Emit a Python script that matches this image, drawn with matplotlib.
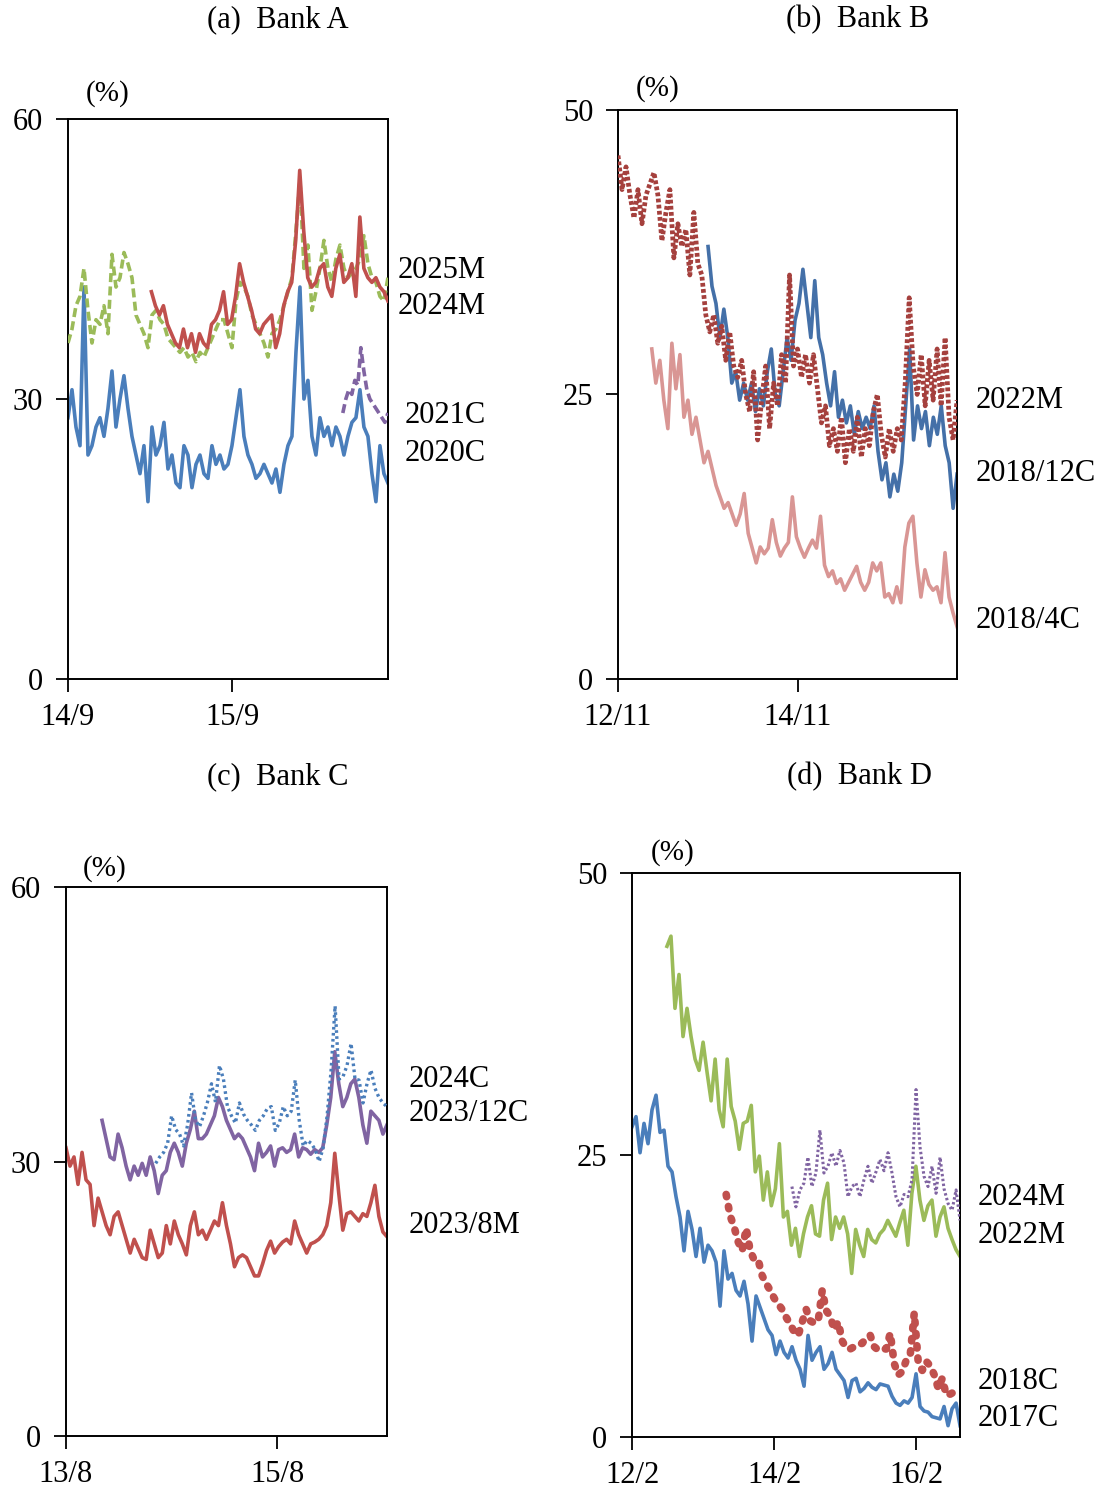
import numpy as np
import matplotlib
matplotlib.use("Agg")
import matplotlib.pyplot as plt

plt.rcParams['font.family'] = ['Liberation Serif', 'DejaVu Serif']

# colours
blue = '#4a7ebb'
red = '#c0504d'
dred = '#a5403d'
pink = '#d99694'
green = '#9bbb59'
purple = '#8064a2'

# ---- panel (a) Bank A : x in months from 14/9 ----
a_xmax = 23.4
a_blue_span = (0, 23.4)
a_blue = [28, 31, 27, 25, 42, 24, 25, 27, 28, 26, 29, 33, 27, 30, 32.5, 29, 26, 24, 22, 25,
          19, 27, 24, 25, 27.5, 22.5, 24, 21, 20.5, 25, 24, 20.5, 23, 24, 22, 21.5, 25, 23, 24, 22.5,
          23, 25, 28, 31, 26, 24, 23, 21.5, 22, 23, 22, 21, 22.5, 20, 23, 25, 26, 35, 42, 30,
          32, 26, 24, 28, 26, 27, 25, 27, 26, 24, 26, 27.5, 28, 31, 27, 26, 22, 19, 25, 22, 21]
a_green_span = (0, 23.4)
a_green = [36, 37.5, 40, 41, 44, 39.5, 36, 38.5, 38, 40, 37, 45.5, 42, 43, 45.7, 44.5, 43, 39, 38, 37,
           35.5, 39, 39.5, 38.5, 38, 36.5, 36, 35.5, 35, 35.5, 34.5, 35, 34, 35, 34.5, 35.5, 36.5, 37.5, 38.5, 38.5,
           37, 35.5, 40.5, 42.5, 42, 41, 39, 38, 37, 36, 34.5, 37, 37.5, 38.5, 40, 41.5, 43, 48, 53.5, 44,
           46.5, 39.5, 41.5, 44, 47, 44, 42.5, 45, 46.5, 44, 43, 43.5, 44, 45, 47.5, 44.5, 43, 42.5, 41, 40.5, 43]
a_red_span = (6.1, 23.4)
a_red = [41.5, 40, 39, 40, 38, 37, 36, 35.5, 37.5, 35.5, 37, 35, 37, 36, 35.5, 38, 38.5, 39.5, 41.5, 38,
         38.5, 41, 44.5, 42.5, 41, 39.5, 37.5, 37, 38, 38.5, 39, 35.5, 37, 40, 41.5, 42.5, 47, 54.5, 48, 43,
         42, 42.5, 44, 44.5, 42, 41, 44, 45.5, 42.5, 43, 44.5, 41, 49.5, 44, 43, 42.5, 43, 42, 41.5, 40.5]
a_purple_span = (20.1, 23.4)
a_purple = [28.5, 30, 31, 30.5, 32, 31.5, 35.5, 33, 31, 30, 29.5, 29, 28.5, 28, 27.5, 28.5]

# ---- panel (b) Bank B : x in months from 12/11 ----
b_xmax = 45.2
b_red_span = (0, 45.2)
b_red = [46, 43, 45, 42.5, 40.5, 43, 40, 42.5, 43.5, 44.5, 42.5, 38.5, 41, 43, 37, 40, 38, 39.5, 35.5, 41,
         36.5, 35.5, 32, 30.5, 32, 29.5, 31, 28, 30.5, 27.5, 26.5, 28, 25, 23.5, 27, 21, 24.5, 27.5, 22, 26,
         24, 28.5, 26, 35.5, 27.5, 29, 26.5, 28.5, 26, 28.5, 25.5, 22.5, 24, 20.5, 22, 20, 23, 19, 22, 20,
         23, 19.5, 22, 20.5, 23.5, 25, 21.5, 19.5, 22, 20, 22, 21, 26, 33.5, 27.5, 25, 28.5, 24, 28, 24.5,
         29, 24, 30, 23, 21, 24.5]
b_blue_span = (12.0, 45.2)
b_blue = [38, 34.5, 33, 30, 32.5, 30, 26, 27, 24.5, 26, 24.5, 26, 23.5, 25.5, 24, 27, 29, 25, 24, 27,
          30, 28, 31.5, 33, 36, 33, 30, 35, 30, 28.5, 26, 24, 27, 23, 24.5, 22.5, 24, 21.5, 23.5, 22,
          23, 22, 24, 20, 17.5, 19, 16, 18, 16.5, 19, 24, 29, 21, 24, 22, 23.5, 20.5, 23, 21.5, 24,
          20.5, 19, 15, 18]
b_pink_span = (4.5, 45.2)
b_pink = [29, 26, 28, 24.5, 22, 29.5, 25.5, 28.5, 23, 24.5, 21.5, 23, 21, 19, 20, 18.5, 17, 16, 15, 15.5,
          14.5, 13.5, 14.5, 16.3, 12.8, 11.5, 10.2, 11.6, 11, 11.5, 14, 12, 10.8, 11.5, 12, 16, 12.5, 11.5, 10.7, 11.5,
          12.2, 11.5, 14.3, 10, 9, 9.5, 8.4, 8.8, 7.8, 8.5, 9.2, 9.9, 8.5, 7.8, 8.5, 10.2, 9.5, 10.2, 7.2, 7.5,
          6.7, 8.1, 6.7, 11.6, 13.7, 14.3, 10.2, 7.2, 9.6, 8.3, 7.8, 8.1, 6.7, 11.1, 7.2, 5.8, 4.6]

# ---- panel (c) Bank C : x in months from 13/8 ----
c_xmax = 36.5
c_red_span = (0, 36.5)
c_red = [31.5, 29.5, 30.5, 27.5, 31, 28, 27.5, 23, 26, 24.5, 23, 22, 24, 24.5, 23, 21.5, 20, 21.5, 20.5, 19.5,
         19.3, 22.5, 21, 19.5, 20, 23, 21, 23.5, 22, 21, 19.8, 23, 24.5, 22, 22.5, 21.5, 22.5, 23.5, 23, 25.5,
         23, 21, 18.5, 19.5, 19.8, 19.5, 18.5, 17.5, 17.5, 18.8, 20.3, 21.3, 20, 20.7, 21.2, 21.5, 21, 23.5, 22, 21,
         20, 21, 21.2, 21.5, 22, 23, 25.5, 30.9, 26.5, 22.5, 24.3, 24.5, 24, 23.5, 24.3, 24, 25.5, 27.4, 24, 22.3, 21.8]
c_purple_span = (4.1, 36.5)
c_purple = [34.5, 32.5, 30.5, 30.2, 33, 31.5, 29.5, 28, 29.5, 28.5, 29.8, 28.5, 30.5, 29, 26.5, 28.5, 29, 31, 32, 31,
            29.5, 32, 33.5, 35.5, 32.5, 32.5, 33, 34, 35, 37, 36, 34.5, 33.5, 32.5, 33, 32.5, 31.5, 30.5, 29, 32,
            30.5, 31, 31.7, 29.5, 31.3, 31.5, 31, 31.3, 33, 30.5, 31.5, 31.3, 30.8, 31.3, 31, 31.5, 34, 37, 42, 38.5,
            36, 37, 38.5, 39, 37, 34, 32, 35.5, 35, 34.5, 33, 34]
c_blue_span = (10.2, 36.5)
c_blue = [29.8, 30.5, 31, 32, 35, 33.5, 33, 31.7, 34, 37.5, 34.5, 33.8, 35, 36.5, 38.5, 36.5, 40.5, 39, 36, 35,
          34.2, 36.4, 35.2, 34.5, 34, 33.4, 34.5, 35, 35.8, 36, 33.4, 34.2, 36, 35, 35.5, 38.9, 34.5, 31.7, 32.3, 32,
          31.3, 30, 31.5, 35, 40, 47, 39, 39.3, 40.5, 42.9, 39, 38.9, 36.4, 38.5, 40, 38, 37, 36.4, 36]

# ---- panel (d) Bank D : x in months from 12/2 ----
d_xmax = 55.4
d_blue_span = (0, 55.4)
d_blue = [27.5, 28.4, 25.2, 27.8, 26, 29, 30.3, 27, 27.2, 24, 23.5, 21.3, 19.5, 16.5, 20, 18.4, 16, 18.5, 15.5, 17,
          16.5, 15.5, 11.6, 16.5, 14, 14.5, 13, 12.5, 13.8, 11.8, 8.5, 12.5, 11.5, 10.5, 9.5, 9, 7.3, 8.5, 7.5, 7,
          8, 6.8, 6, 4.5, 9, 6.8, 7.5, 8, 6, 6.5, 7.5, 6, 5.5, 5, 3.5, 5, 5.2, 4, 4.3, 4.8,
          4.4, 4.2, 4.7, 4.6, 4.5, 3.6, 3, 2.8, 3.2, 3, 3.5, 5.6, 2.7, 2.3, 2.2, 1.8, 1.7, 1.6, 2.7, 1,
          2.5, 3, 1]
d_green_span = (5.9, 55.4)
d_green = [43.5, 44.4, 38, 41, 35.5, 38, 35.5, 33.5, 32.5, 35, 32.3, 29.8, 33.5, 29, 27.5, 33.5, 29.3, 28, 25.5, 27.8,
           28, 29.4, 23.5, 24.9, 21, 23.5, 20.5, 22, 26, 19.5, 20, 17, 18.5, 16, 18, 19.5, 20.5, 18, 17.8, 21,
           22.5, 17.5, 19.5, 18.5, 19.5, 18, 14.5, 18.4, 17, 16, 18.4, 17.5, 17.2, 18, 18.4, 19.2, 18.5, 17.8, 19, 20.1,
           17, 21.6, 24, 21, 19.2, 20.5, 21, 17.8, 19.5, 20.4, 18.5, 17.5, 16.6, 16]
d_purple_span = (27.0, 55.4)
d_purple = [22.2, 20.4, 21.9, 22.5, 24.8, 22.2, 23.4, 27.2, 23.4, 24, 25.2, 24, 25.4, 24.3, 21.3, 22.2, 22.5, 21.3,
            22.8, 24, 22.5, 23.5, 24.6, 23.6, 25.2, 23.4, 21.3, 20.4, 21.5, 21.3, 22.8, 30.8, 25.7, 23.1, 22.2, 24,
            21.6, 24.8, 22, 20.7, 20.1, 21.9, 19.2]
d_red_span = (15.9, 55.1)
d_red = [21.5, 19.6, 18.6, 17.3, 16.5, 18.5, 16.5, 15.7, 15.7, 14.3, 13.6, 13, 12.3, 11.8, 11.3, 10.6, 10, 9.3, 9, 10.2,
         11.3, 10.3, 10.1, 10.3, 13, 11.2, 10.7, 9.5, 10.2, 8.5, 7.9, 7.8, 8, 8.2, 8.3, 8.8, 9, 8, 7.7, 7.8,
         7.8, 9.2, 6.5, 5.5, 5.8, 6.8, 7.3, 11, 6.6, 5.9, 6.7, 6.3, 5.5, 4.3, 5.2, 3.7, 3.8, 4, 4.2]


def draw(ax, span, values, **kw):
    x = np.linspace(span[0], span[1], len(values))
    ax.plot(x, values, **kw)


def setup(ax, xmax, xticks, xlabels, ymax, yticks, pct_pos):
    ax.set_xlim(0, xmax)
    ax.set_ylim(0, ymax)
    ax.set_xticks(xticks)
    ax.set_xticklabels(xlabels)
    ax.set_yticks(yticks)
    ax.tick_params(axis='y', direction='out', length=9, width=1.3, pad=9, labelsize=22)
    ax.tick_params(axis='x', direction='out', length=9, width=1.3, pad=8, labelsize=22)
    for s in ax.spines.values():
        s.set_linewidth(1.4)
    ax.text(pct_pos[0], pct_pos[1], '(%)', transform=ax.transAxes, fontsize=21,
            ha='center', va='center')


def labels(ax, xpos, items):
    tr = ax.get_yaxis_transform()
    for txt, y in items:
        ax.text(xpos, y, txt, transform=tr, fontsize=22, ha='left', va='center')


fig = plt.figure(figsize=(11.09, 14.90), dpi=100)
ax_a = fig.add_axes([0.0613, 0.5443, 0.2885, 0.3758])
ax_b = fig.add_axes([0.5573, 0.5443, 0.3057, 0.3819])
ax_c = fig.add_axes([0.0595, 0.0362, 0.2894, 0.3685])
ax_d = fig.add_axes([0.5699, 0.0356, 0.2958, 0.3785])

lw = 2.6

# (a)
draw(ax_a, a_blue_span, a_blue, color=blue, lw=lw, zorder=2)
draw(ax_a, a_purple_span, a_purple, color=purple, lw=lw, ls=(0, (2.5, 1.2)), zorder=3)
draw(ax_a, a_green_span, a_green, color=green, lw=lw, ls=(0, (2.5, 1.2)), zorder=3)
draw(ax_a, a_red_span, a_red, color=red, lw=lw, zorder=4)
setup(ax_a, a_xmax, [0, 12], ['14/9', '15/9'], 60, [0, 30, 60], (0.125, 1.046))
labels(ax_a, 1.03, [('2025M', 43.8), ('2024M', 39.9)])
labels(ax_a, 1.053, [('2021C', 28.2), ('2020C', 24.2)])

# (b)
draw(ax_b, b_pink_span, b_pink, color=pink, lw=lw, zorder=2)
draw(ax_b, b_blue_span, b_blue, color='#4470a8', lw=lw, zorder=2)
draw(ax_b, b_red_span, b_red, color=dred, lw=3.4, ls=(0, (0.8, 0.5)), zorder=3)
setup(ax_b, b_xmax, [0, 24], ['12/11', '14/11'], 50, [0, 25, 50], (0.118, 1.037))
labels(ax_b, 1.056, [('2022M', 24.5), ('2018/12C', 18.1), ('2018/4C', 5.1)])

# (c)
draw(ax_c, c_red_span, c_red, color=red, lw=lw, zorder=2)
draw(ax_c, c_purple_span, c_purple, color=purple, lw=lw, zorder=2)
draw(ax_c, c_blue_span, c_blue, color=blue, lw=2.4, ls=(0, (0.8, 1.0)), zorder=3)
setup(ax_c, c_xmax, [0, 24], ['13/8', '15/8'], 60, [0, 30, 60], (0.121, 1.033))
labels(ax_c, 1.069, [('2024C', 39.0), ('2023/12C', 35.2), ('2023/8M', 23.0)])

# (d)
draw(ax_d, d_blue_span, d_blue, color=blue, lw=lw, zorder=2)
draw(ax_d, d_green_span, d_green, color=green, lw=lw, zorder=2)
draw(ax_d, d_purple_span, d_purple, color=purple, lw=2.2, ls=(0, (0.8, 0.8)), zorder=3)
draw(ax_d, d_red_span, d_red, color=red, lw=5.5, ls=(0, (0.3, 1.3)),
     dash_capstyle='round', zorder=3)
setup(ax_d, d_xmax, [0, 24, 48], ['12/2', '14/2', '16/2'], 50, [0, 25, 50], (0.125, 1.037))
labels(ax_d, 1.055, [('2024M', 21.2), ('2022M', 17.9), ('2018C', 4.9), ('2017C', 1.6)])

# panel titles
fig.text(0.2507, 0.9866, '(a)  Bank A', fontsize=22, ha='center', va='center')
fig.text(0.7737, 0.9866, '(b)  Bank B', fontsize=22, ha='center', va='center')
fig.text(0.2507, 0.4785, '(c)  Bank C', fontsize=22, ha='center', va='center')
fig.text(0.7746, 0.4785, '(d)  Bank D', fontsize=22, ha='center', va='center')

fig.savefig('out.png', dpi=100)
